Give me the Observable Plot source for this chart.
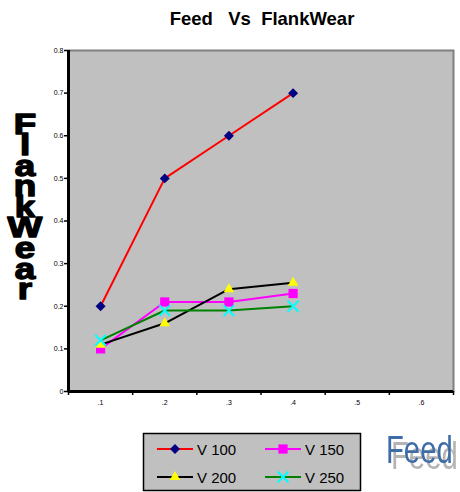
<!DOCTYPE html>
<html>
<head>
<meta charset="utf-8">
<script src="https://cdn.jsdelivr.net/npm/d3@7"></script>
<script src="https://cdn.jsdelivr.net/npm/@observablehq/plot@0.6"></script>
<style>
  body { margin: 0; background: #fff; }
  #chart svg { display: block; }
</style>
</head>
<body>
<div id="chart"></div>
<script>
// Flank wear measured at each feed, one series per cutting speed
const feeds = [0.1, 0.2, 0.3, 0.4];
const v100 = [0.2, 0.5, 0.6, 0.7];
const v150 = [0.1, 0.21, 0.21, 0.23];
const v200 = [0.11, 0.16, 0.24, 0.255];
const v250 = [0.12, 0.19, 0.19, 0.2];

const seriesNames = ["V 100", "V 150", "V 200", "V 250"];
const seriesValues = [v100, v150, v200, v250];

// Axis categories and ticks
const feedCategories = [0.1, 0.2, 0.3, 0.4, 0.5, 0.6];
const categoryEdges = [0.05, 0.15, 0.25, 0.35, 0.45, 0.55, 0.65];
const yTicks = [0, 0.1, 0.2, 0.3, 0.4, 0.5, 0.6, 0.7, 0.8];

// Series styling
const lineColors = ["#ff0000", "#ff00ff", "#000000", "#008000"];
const markerStyles = [
  {symbol: "diamond2", fill: "#000080", stroke: "none", r: 4.5, d3sym: d3.symbolDiamond2},
  {symbol: "square", fill: "#ff00ff", stroke: "none", r: 5.2, d3sym: d3.symbolSquare},
  {symbol: "triangle", fill: "#ffff00", stroke: "none", r: 3.9, d3sym: d3.symbolTriangle},
  {symbol: "times", fill: "none", stroke: "#00ffff", r: 5, d3sym: d3.symbolTimes}
];

const rows = seriesNames.flatMap((name, i) =>
  feeds.map((f, j) => ({series: name, feed: f, wear: seriesValues[i][j]}))
);

const font = "'Liberation Sans', Arial, Helvetica, sans-serif";

const seriesMarks = seriesNames.flatMap((name, i) => {
  const data = rows.filter(d => d.series === name);
  const m = markerStyles[i];
  return [
    Plot.line(data, {x: "feed", y: "wear", stroke: lineColors[i], strokeWidth: 2}),
    Plot.dot(data, {x: "feed", y: "wear", symbol: m.symbol, fill: m.fill,
      stroke: m.stroke, strokeWidth: 2, r: m.r})
  ];
});

const chart = Plot.plot({
  width: 460,
  height: 492,
  marginTop: 50,
  marginRight: 7,
  marginBottom: 101,
  marginLeft: 68,
  style: {fontFamily: font, fontSize: "7px", color: "#000", background: "#fff"},
  x: {domain: [0.05, 0.65]},
  y: {domain: [0, 0.8]},
  marks: [
    Plot.frame({fill: "#c0c0c0", stroke: "#808080", strokeWidth: 2}),
    Plot.axisY({ticks: yTicks, tickSize: 4, tickPadding: 1, label: null,
      tickFormat: d => d === 0 ? "0" : d.toFixed(1), strokeWidth: 1.5}),
    Plot.axisX({ticks: categoryEdges, tickSize: 4, label: null, tickFormat: () => "", strokeWidth: 1.5}),
    Plot.axisX({ticks: feedCategories, tickSize: 0, tickPadding: 9, label: null,
      tickFormat: d => "." + Math.round(d * 10)}),
    Plot.ruleX([0.05], {stroke: "#000", strokeWidth: 3}),
    Plot.ruleY([0], {stroke: "#000", strokeWidth: 3}),
    ...seriesMarks
  ]
});

document.getElementById("chart").append(chart);

const svg = d3.select(chart);

// Drop shadow used by the x-axis title
const defs = svg.append("defs");
const shadow = defs.append("filter").attr("id", "feed-shadow")
  .attr("x", "-10%").attr("y", "-20%").attr("width", "140%").attr("height", "160%");
shadow.append("feOffset").attr("in", "SourceAlpha").attr("dx", 6.5).attr("dy", 6).attr("result", "off");
shadow.append("feFlood").attr("flood-color", "#b4b4b4").attr("result", "grey");
shadow.append("feComposite").attr("in", "grey").attr("in2", "off").attr("operator", "in").attr("result", "sh");
const merge = shadow.append("feMerge");
merge.append("feMergeNode").attr("in", "sh");
merge.append("feMergeNode").attr("in", "SourceGraphic");

// Title
svg.append("text")
  .attr("x", 262).attr("y", 25)
  .attr("text-anchor", "middle")
  .attr("font-family", font).attr("font-weight", "bold").attr("font-size", 18.5)
  .style("white-space", "pre")
  .text("Feed   Vs  FlankWear");

// Vertical y-axis title with upright stacked letters
const sx = 1.6, sy = 1.25;
svg.append("text")
  .attr("transform", `scale(${sx},${sy})`)
  .attr("x", 25 / sx).attr("y", 201 / sy)
  .attr("text-anchor", "middle")
  .style("writing-mode", "vertical-rl")
  .style("text-orientation", "upright")
  .style("letter-spacing", "-9.3px")
  .attr("font-family", font).attr("font-weight", "bold").attr("font-size", 23)
  .attr("stroke", "#000").attr("stroke-width", 1.1).attr("stroke-linejoin", "round")
  .text("FlankWear");

// Legend
const legend = svg.append("g");
legend.append("rect")
  .attr("x", 143.5).attr("y", 433.5).attr("width", 217).attr("height", 57)
  .attr("fill", "#c0c0c0").attr("stroke", "#000").attr("stroke-width", 1.5);
const colX = [157, 265];
const rowY = [449, 477];
seriesNames.forEach((name, i) => {
  const x = colX[i % 2], y = rowY[Math.floor(i / 2)];
  const m = markerStyles[i];
  legend.append("line")
    .attr("x1", x).attr("x2", x + 36).attr("y1", y).attr("y2", y)
    .attr("stroke", lineColors[i]).attr("stroke-width", 2);
  legend.append("path")
    .attr("transform", `translate(${x + 18},${y})`)
    .attr("d", d3.symbol(m.d3sym, Math.PI * m.r * m.r)())
    .attr("fill", m.fill).attr("stroke", m.stroke).attr("stroke-width", 2);
  legend.append("text")
    .attr("x", x + 40).attr("y", y + 6)
    .attr("text-anchor", "start")
    .attr("font-family", font).attr("font-size", 15)
    .text(name);
});

// X-axis title
svg.append("text")
  .attr("transform", "translate(386,463) scale(0.75,1)")
  .attr("text-anchor", "start")
  .attr("font-family", font).attr("font-size", 39)
  .attr("fill", "#3d6ca6")
  .attr("filter", "url(#feed-shadow)")
  .text("Feed");
</script>
</body>
</html>
